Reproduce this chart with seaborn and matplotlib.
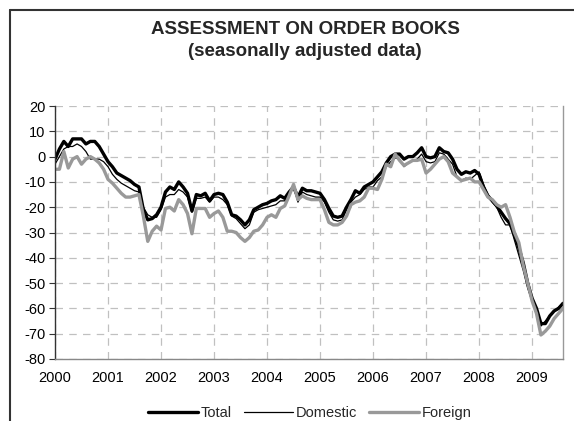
import numpy as np
import pandas as pd
import matplotlib
matplotlib.use("Agg")
import matplotlib.pyplot as plt
from matplotlib.lines import Line2D
import seaborn as sns

sns.set_theme(style="white")
plt.rcParams['font.family'] = ['Liberation Sans', 'DejaVu Sans']

start_year = 2000
total = [-1, 3, 6, 4, 7, 7, 7, 5, 6, 6, 4, 1,
         -2, -4, -6.5, -7.5, -8.5, -9.5, -11, -12, -21, -25, -24.5, -23,
         -20, -14, -12, -13, -10, -12, -14.5, -21.5, -15, -15.5, -14.5, -17.5,
         -15, -14.5, -15, -18, -23, -23.5, -25, -27, -25, -21, -20, -19,
         -18.5, -17.5, -17, -15.5, -16.5, -14, -12, -16, -12.5, -13.5, -13.5, -14,
         -14.5, -17, -20.5, -23.5, -24, -23.5, -20, -17, -13.5, -14.5, -12, -11,
         -10, -8, -6, -2.5, 0, 1, 1, -1, 0, 0, 1.5, 3.5,
         0, -0.5, 0, 3.5, 2, 1.5, -1, -5, -7, -6, -6.5, -5.5,
         -7, -12, -15.5, -17.5, -19.5, -22, -24.5, -26.5, -31, -36, -42, -50,
         -56, -60, -66, -66, -63, -61, -60, -58]
domestic = [-3, 0, 3, 4, 4, 5, 4, 2, -1, -1, -1, -2,
            -4, -7, -9, -10.5, -11.5, -12.5, -13.5, -14, -20, -23, -24, -24,
            -21, -16, -15, -15, -13, -14, -16, -22, -16.5, -16.5, -16, -18,
            -16, -16, -17, -19, -23.5, -24.5, -26.5, -28.5, -27, -22, -21, -20.5,
            -20, -19.5, -19, -17.5, -17.5, -15, -12, -18, -14, -15, -15.5, -16,
            -16, -18, -22, -25, -25.5, -25, -21, -18, -16, -15, -13, -12,
            -12, -9.5, -8, -4, -2, -0.5, -1, -4, -2.5, -1.5, -1, 1,
            -2, -2.5, -2, 1.5, 1, -1, -3, -8, -9.5, -8.5, -9, -7.5,
            -6, -11, -15, -18, -20, -24, -27, -27, -33, -39, -45, -52,
            -57, -61, -67, -65, -63, -61, -59.5, -58]
foreign = [-5, -5, 2, -4.5, -1, 0, -3, -1, 0, -1, -2.5, -5,
           -9, -10.5, -12.5, -14.5, -16, -16, -15.5, -15, -23.5, -33.5, -29.5, -27.5,
           -29, -20.5, -20, -21.5, -17, -19, -22.5, -30.5, -20.5, -20.5, -20.5, -24,
           -22.5, -21.5, -24, -29.5, -29.5, -30, -32, -33.5, -32, -29.5, -29, -27,
           -24, -23, -24, -20.5, -19.5, -15.5, -11, -17, -15.5, -16.5, -17, -17,
           -17, -21, -26, -27, -27, -26, -23.5, -19, -18, -17.5, -16, -12.5,
           -12.5, -13, -9, -3, -4, 1, -1.5, -3.5, -2.5, -1.5, -1.5, -1,
           -6.5, -5, -3, -1, 0, -2, -6.5, -8, -9.5, -9, -8.5, -10,
           -10, -13, -16, -17, -19, -20, -19, -24, -30, -34, -43, -50,
           -57, -62, -70.5, -69, -67, -64, -62, -60]
series_names = ["Total", "Domestic", "Foreign"]
year_labels = [str(y) for y in range(2000, 2010)]
yticks = list(range(-80, 21, 10))

n = len(total)
t = start_year + np.arange(n) / 12.0
df = pd.DataFrame({"t": t, "Total": total, "Domestic": domestic, "Foreign": foreign})

W, H = 574, 421
fig = plt.figure(figsize=(W / 100, H / 100), dpi=100)
ax = fig.add_axes([55 / W, 1 - 359 / H, (563 - 55) / W, (359 - 106) / H])

styles = {"Total": dict(color="black", linewidth=2.4),
          "Domestic": dict(color="black", linewidth=0.9),
          "Foreign": dict(color="#999999", linewidth=2.4)}
for name in series_names:
    sns.lineplot(data=df, x="t", y=name, ax=ax, label=name, **styles[name])

ax.set_xlim(t[0], t[-1])
ax.set_ylim(-80, 20)
ax.set_yticks(yticks)
ax.set_yticklabels([str(v) for v in yticks])
ax.set_xticks(list(range(2000, 2010)))
ax.set_xticklabels(year_labels)
ax.set_xlabel("")
ax.set_ylabel("")

ax.grid(True, axis="both", linestyle=(0, (6, 5)), color="#c0c0c0", linewidth=0.9)
ax.set_axisbelow(True)
ax.spines["top"].set_visible(False)
ax.spines["left"].set_color("#333333")
ax.spines["left"].set_linewidth(1.0)
ax.spines["bottom"].set_color("#888888")
ax.spines["bottom"].set_linewidth(1.0)
ax.spines["right"].set_color("#999999")
ax.spines["right"].set_linewidth(1.0)

ax.tick_params(axis="y", which="major", direction="out", length=4, width=0.8,
               color="#333333", left=True, labelsize=10.5, pad=3, labelcolor="black")
ax.tick_params(axis="x", which="major", length=0, labelsize=10.5, pad=9, labelcolor="black")

ax.legend(loc="center", bbox_to_anchor=(310 / W, 1 - 413 / H), bbox_transform=fig.transFigure,
          ncol=3, frameon=False, fontsize=10.5, handlelength=3.4, handletextpad=0.2,
          columnspacing=0.8, borderaxespad=0)

fig.text(305 / W, 1 - 30 / H, "ASSESSMENT ON ORDER BOOKS", ha="center", va="center",
         fontsize=13.5, fontweight="bold")
fig.text(305 / W, 1 - 51 / H, "(seasonally adjusted data)", ha="center", va="center",
         fontsize=13.5, fontweight="bold")

fig.add_artist(Line2D([10 / W, 1], [1 - 10 / H, 1 - 10 / H], transform=fig.transFigure,
                      color="#333333", linewidth=1.5))
fig.add_artist(Line2D([10 / W, 10 / W], [0, 1 - 10 / H], transform=fig.transFigure,
                      color="#333333", linewidth=1.5))

fig.savefig("out.png", dpi=100, facecolor="white")
